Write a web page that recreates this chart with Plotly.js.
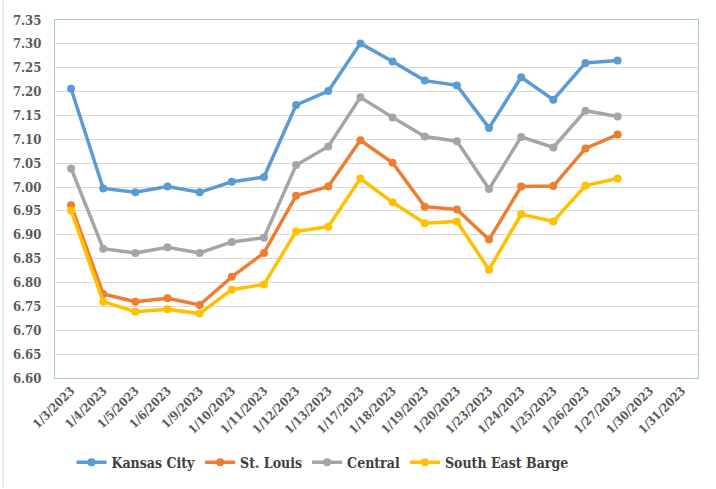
<!DOCTYPE html>
<html>
<head>
<meta charset="utf-8">
<script src="https://cdn.plot.ly/plotly-3.0.1.min.js"></script>
<style>html,body{margin:0;padding:0;background:#fff;}#chart{width:716px;height:489px;}</style>
</head>
<body>
<div id="chart"></div>
<script>
var dates = ["1/3/2023","1/4/2023","1/5/2023","1/6/2023","1/9/2023","1/10/2023","1/11/2023","1/12/2023","1/13/2023","1/17/2023","1/18/2023","1/19/2023","1/20/2023","1/23/2023","1/24/2023","1/25/2023","1/26/2023","1/27/2023","1/30/2023","1/31/2023"];
var kansasCity = [7.206,6.997,6.989,7.001,6.989,7.011,7.021,7.172,7.201,7.301,7.263,7.223,7.213,7.124,7.230,7.183,7.260,7.265,null,null];
var stLouis = [6.962,6.776,6.760,6.767,6.753,6.812,6.862,6.982,7.001,7.098,7.051,6.959,6.953,6.890,7.001,7.002,7.081,7.110,null,null];
var central = [7.039,6.871,6.862,6.874,6.862,6.885,6.894,7.046,7.085,7.188,7.146,7.106,7.096,6.996,7.105,7.083,7.160,7.148,null,null];
var seBarge = [6.951,6.760,6.739,6.744,6.735,6.785,6.796,6.907,6.917,7.018,6.968,6.924,6.928,6.827,6.943,6.928,7.003,7.018,null,null];

var seriesNames = ["Kansas City","St. Louis","Central","South East Barge"];
var seriesData = [kansasCity, stLouis, central, seBarge];
var seriesColors = ["#5b9bd5","#ed7d31","#a5a5a5","#ffc000"];

var SERIF = "DejaVu Serif Condensed";

var traces = seriesData.map(function(vals, i){
  return {
    x: dates, y: vals, name: seriesNames[i], type: "scatter", mode: "lines+markers",
    line: {color: seriesColors[i], width: 3.5},
    marker: {color: seriesColors[i], size: 8},
    connectgaps: false, hoverinfo: "skip"
  };
});

var layout = {
  width: 716, height: 489,
  margin: {l: 55, r: 17.5, t: 20, b: 110},
  paper_bgcolor: "#ffffff", plot_bgcolor: "#ffffff",
  font: {family: SERIF, color: "#595959"},
  showlegend: true,
  legend: {orientation: "h", x: 0.416, xanchor: "center", y: -0.233, yanchor: "middle",
    font: {size: 14, color: "#404040", family: SERIF, weight: "bold"},
    itemwidth: 30, tracegroupgap: 0},
  xaxis: {type: "category", categoryorder: "array", categoryarray: dates,
    range: [-0.5, 19.5], tickangle: -45,
    tickfont: {size: 12, color: "#595959", family: SERIF, weight: "bold"},
    showgrid: false, zeroline: false, showline: true, linecolor: "#a9c9cf", linewidth: 1, mirror: true,
    ticks: "", fixedrange: true},
  yaxis: {range: [6.6, 7.35], dtick: 0.05, tick0: 6.6, tickformat: ".2f",
    tickfont: {size: 13, color: "#595959", family: SERIF, weight: "bold"},
    showgrid: true, gridcolor: "#d9d9d9", gridwidth: 1, zeroline: false,
    showline: true, linecolor: "#a9c9cf", linewidth: 1, mirror: true, ticks: "", ticklabelstandoff: 10},
  shapes: [
    {type: "line", xref: "paper", yref: "paper", x0: -0.0808, x1: -0.0808, y0: -0.306, y1: 1.055,
     line: {color: "#d9d9d9", width: 1}}
  ]
};

Plotly.newPlot("chart", traces, layout, {displayModeBar: false, staticPlot: true});
</script>
</body>
</html>
